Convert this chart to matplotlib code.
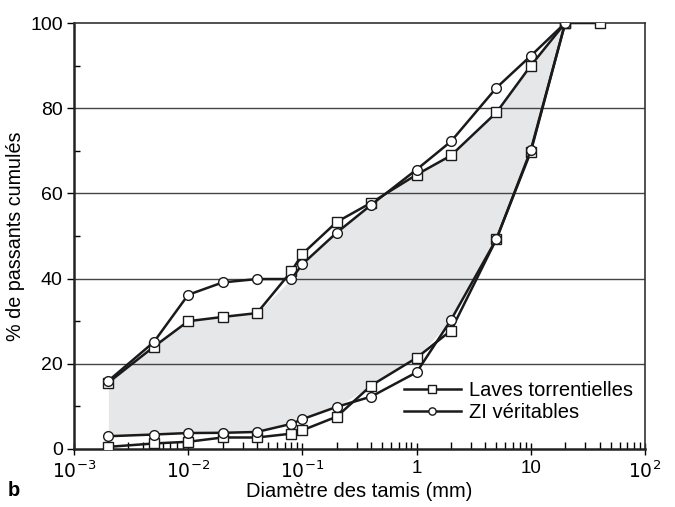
import numpy as np
import matplotlib.pyplot as plt

plt.rcParams['font.family'] = ['Liberation Sans', 'DejaVu Sans']

# Diamètres des tamis (mm)
d_up_sq = [0.002, 0.005, 0.01, 0.02, 0.04, 0.08, 0.1, 0.2, 0.4, 1, 2, 5, 10, 20, 40]
d_other = [0.002, 0.005, 0.01, 0.02, 0.04, 0.08, 0.1, 0.2, 0.4, 1, 2, 5, 10, 20]

# Laves torrentielles : enveloppes haute et basse
laves_haut = [15.6, 24.0, 30.0, 31.0, 31.9, 41.7, 45.8, 53.3, 57.8, 64.4, 68.9, 79.0, 90.0, 100, 100]
laves_bas = [0.5, 1.3, 1.7, 2.7, 2.7, 3.6, 4.4, 7.6, 14.9, 21.4, 27.8, 49.3, 69.8, 100]

# ZI véritables : enveloppes haute et basse
zi_haut = [16.0, 25.1, 36.2, 39.1, 39.9, 39.9, 43.4, 50.8, 57.3, 65.6, 72.2, 84.8, 92.3, 100]
zi_bas = [3.0, 3.4, 3.75, 3.8, 4.0, 5.9, 7.0, 9.9, 12.3, 18.0, 30.3, 49.3, 70.2, 100]

fig = plt.figure(figsize=(6.75, 5.07), dpi=100)
ax = fig.add_axes([0.1096, 0.1144, 0.846, 0.8402])

# zone grisée entre les enveloppes
x = np.array(d_other)
haut = np.minimum(np.array(laves_haut[:len(x)]), np.array(zi_haut))
bas = np.maximum(np.array(laves_bas), np.array(zi_bas))
ax.fill_between(x, bas, haut, color='#e6e7e9', lw=0, zorder=1)

for y in [20, 40, 60, 80]:
    ax.axhline(y, color='#444444', lw=1, zorder=2)

style = dict(color='#1a1a1a', lw=1.8, mfc='white', mec='#1a1a1a', mew=1.0, ms=7, zorder=4)
ax.plot(d_up_sq, laves_haut, marker='s', label='Laves torrentielles', **style)
ax.plot(d_other, laves_bas, marker='s', **style)
ax.plot(d_other, zi_haut, marker='o', label='ZI véritables', **style)
ax.plot(d_other, zi_bas, marker='o', **style)

ax.set_xscale('log')
ax.set_xlim(1e-3, 1e2)
ax.set_ylim(0, 100)
ax.set_xticks([1e-3, 1e-2, 1e-1, 1, 10, 100])
ax.set_xticklabels([r'$10^{-3}$', r'$10^{-2}$', r'$10^{-1}$', '1', '10', r'$10^{2}$'])
ax.set_yticks([0, 20, 40, 60, 80, 100])
ax.set_yticks([10, 30, 50, 70, 90], minor=True)

ax.tick_params(axis='x', which='major', direction='inout', length=8, width=1, labelsize=13.5, pad=4)
ax.tick_params(axis='x', which='minor', direction='in', length=5, width=1)
ax.tick_params(axis='y', which='major', direction='out', length=5, width=1, labelsize=14, pad=3)
ax.tick_params(axis='y', which='minor', direction='in', length=4, width=1)

for s in ['left', 'bottom']:
    ax.spines[s].set_linewidth(1.8)
    ax.spines[s].set_color('#222222')
for s in ['top', 'right']:
    ax.spines[s].set_linewidth(1.2)
    ax.spines[s].set_color('#333333')

ax.set_xlabel('Diamètre des tamis (mm)', fontsize=14.5, labelpad=0)
ax.set_ylabel('% de passants cumulés', fontsize=14.2, labelpad=4)

leg = ax.legend(loc='lower right', frameon=False, fontsize=14.5, handlelength=2.8,
                handletextpad=0.4, labelspacing=0.15, markerscale=0.75,
                bbox_to_anchor=(1.01, 0.02))

fig.text(0.012, 0.022, 'b', fontsize=14.5, fontweight='bold')

fig.savefig('out.png', dpi=100)
